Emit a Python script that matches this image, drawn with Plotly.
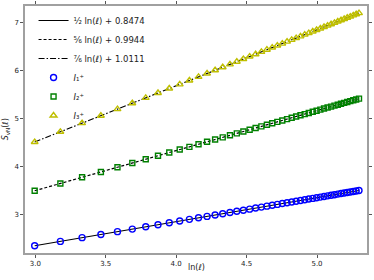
import plotly.graph_objects as go

# ln(ell) for ell = 20, 24, ..., 200
ln_ell = [2.9957, 3.1781, 3.3322, 3.4657, 3.5835, 3.6889, 3.7842, 3.8712, 3.9512, 4.0254,
          4.0943, 4.1589, 4.2195, 4.2767, 4.3307, 4.3820, 4.4308, 4.4773, 4.5218, 4.5643,
          4.6052, 4.6444, 4.6821, 4.7185, 4.7536, 4.7875, 4.8203, 4.8520, 4.8828, 4.9127,
          4.9416, 4.9698, 4.9972, 5.0239, 5.0499, 5.0752, 5.0999, 5.1240, 5.1475, 5.1705,
          5.1930, 5.2149, 5.2364, 5.2575, 5.2781, 5.2983]

s_I1 = [2.345, 2.436, 2.514, 2.580, 2.639, 2.692, 2.740, 2.783, 2.823, 2.860,
        2.895, 2.927, 2.957, 2.986, 3.013, 3.038, 3.063, 3.086, 3.108, 3.130,
        3.150, 3.170, 3.188, 3.207, 3.224, 3.241, 3.258, 3.273, 3.289, 3.304,
        3.318, 3.332, 3.346, 3.359, 3.372, 3.385, 3.397, 3.409, 3.421, 3.433,
        3.444, 3.455, 3.466, 3.476, 3.486, 3.497]

s_I2 = [3.491, 3.643, 3.771, 3.882, 3.981, 4.068, 4.148, 4.220, 4.287, 4.349,
        4.406, 4.460, 4.511, 4.558, 4.603, 4.646, 4.687, 4.725, 4.763, 4.798,
        4.832, 4.865, 4.896, 4.926, 4.956, 4.984, 5.011, 5.038, 5.063, 5.088,
        5.112, 5.136, 5.159, 5.181, 5.203, 5.224, 5.244, 5.264, 5.284, 5.303,
        5.322, 5.340, 5.358, 5.376, 5.393, 5.410]

s_I3 = [4.506, 4.719, 4.899, 5.054, 5.192, 5.315, 5.426, 5.528, 5.621, 5.707,
        5.788, 5.863, 5.934, 6.001, 6.064, 6.123, 6.180, 6.235, 6.287, 6.336,
        6.384, 6.430, 6.474, 6.516, 6.557, 6.597, 6.635, 6.672, 6.708, 6.743,
        6.776, 6.809, 6.841, 6.872, 6.903, 6.932, 6.961, 6.989, 7.017, 7.043,
        7.070, 7.095, 7.120, 7.145, 7.169, 7.192]

fit_x = [2.9957, 5.2983]
fit_1 = [2.3453, 3.4966]
fit_2 = [3.4908, 5.4097]
fit_3 = [4.5061, 7.1924]

fit_names = ["¹⁄₂ ln(<i>ℓ</i>) + 0.8474", "⁵⁄₆ ln(<i>ℓ</i>) + 0.9944", "⁷⁄₆ ln(<i>ℓ</i>) + 1.0111"]
pt_names = ["<i>I</i>₁⁺", "<i>I</i>₂⁺", "<i>I</i>₃⁺"]

x_ticks = [3.0, 3.5, 4.0, 4.5, 5.0]
y_ticks = [3, 4, 5, 6, 7]

fig = go.Figure()
for fy, dash, nm in zip([fit_1, fit_2, fit_3], ["solid", "3px,2px", "6px,2px,1.5px,2px"], fit_names):
    fig.add_trace(go.Scatter(x=fit_x, y=fy, mode="lines", name=nm,
                             line=dict(color="black", width=1.2, dash=dash)))

for sy, sym, col, nm, sz in zip([s_I1, s_I2, s_I3],
                                ["circle-open", "square-open", "triangle-up-open"],
                                ["#0000ff", "#008000", "#bfbf00"], pt_names, [6, 5, 6]):
    fig.add_trace(go.Scatter(x=ln_ell, y=sy, mode="markers", name=nm,
                             marker=dict(symbol=sym, size=sz, color=col,
                                         line=dict(width=1.4, color=col))))

axis_common = dict(showline=True, linecolor="#a0a0a0", linewidth=1.5, mirror="ticks",
                   ticks="outside", ticklen=3, tickwidth=1, tickcolor="#555555",
                   showgrid=False, zeroline=False, automargin=False,
                   tickfont=dict(size=7, color="#222222", family="DejaVu Sans"))

fig.update_layout(
    width=374, height=280,
    margin=dict(l=25, r=7, t=6, b=27),
    paper_bgcolor="white", plot_bgcolor="white",
    font=dict(family="DejaVu Sans", color="#222222"),
    showlegend=True,
    legend=dict(x=0.025, y=1.0, xanchor="left", yanchor="top",
                bgcolor="rgba(255,255,255,0)", font=dict(size=8.5),
                itemwidth=30, tracegroupgap=0),
    xaxis=dict(range=[2.927, 5.355], tickvals=x_ticks, tickformat=".1f", **axis_common),
    yaxis=dict(range=[2.194, 7.34], tickvals=y_ticks, **axis_common),
    annotations=[
        dict(text="ln(<i>ℓ</i>)", xref="paper", yref="paper", x=0.5, y=-0.058,
             xanchor="center", yanchor="middle", showarrow=False, font=dict(size=8)),
        dict(text="<i>S</i><sub>vN</sub>(<i>ℓ</i>)", xref="paper", yref="paper", x=-0.056, y=0.5,
             xanchor="center", yanchor="middle", textangle=-90, showarrow=False, font=dict(size=8)),
    ],
)

fig.write_html("out.html", config={"displayModeBar": False},
               post_script="document.body.style.margin='0';")
